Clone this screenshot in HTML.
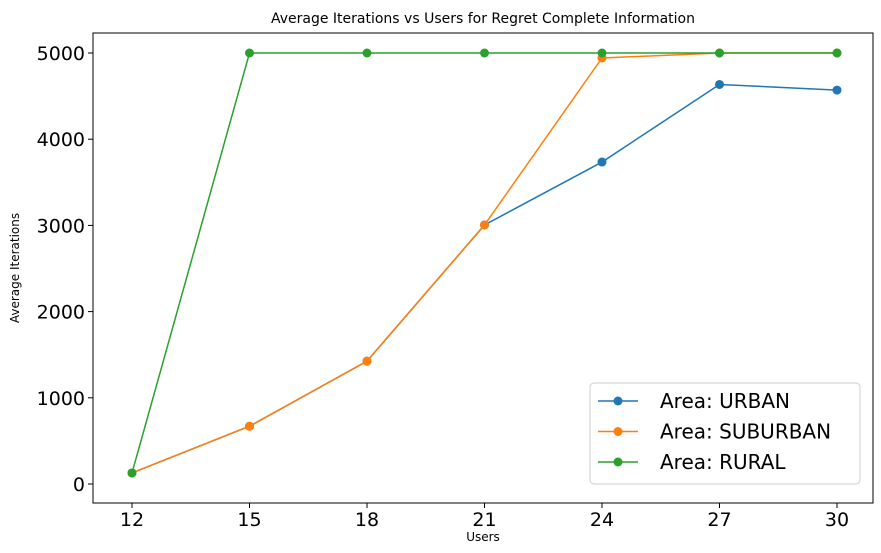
<!DOCTYPE html>
<html><head><meta charset="utf-8"><style>
body{margin:0;background:#fff;}
svg{display:block;font-family:"DejaVu Sans","Liberation Sans",sans-serif;}
</style></head><body>
<svg id="chart" width="881" height="553"></svg>
<script>
const categories=[12,15,18,21,24,27,30];
const urban=[128,670,1425,3005,3735,4635,4570];
const suburban=[128,670,1425,3005,4942,5000,5000];
const rural=[128,5000,5000,5000,5000,5000,5000];
const yTicks=[0,1000,2000,3000,4000,5000];
const seriesNames=["Area: URBAN","Area: SUBURBAN","Area: RURAL"];
const seriesColors=["#1f77b4","#ff7f0e","#2ca02c"];
const NS="http://www.w3.org/2000/svg";
const svg=document.getElementById('chart');
const L=93,R=873,T=33,B=503;
function xs(v){return 132+(v-12)*(837-132)/18;}
function ys(v){return 484-v*(484-53)/5000;}
function mk(tag,attrs,parent){const e=document.createElementNS(NS,tag);for(const k in attrs)e.setAttribute(k,attrs[k]);(parent||svg).appendChild(e);return e;}
const title=mk('text',{x:483,y:23,'text-anchor':'middle','font-size':14,fill:'#000'});title.textContent='Average Iterations vs Users for Regret Complete Information';


const frame=mk('rect',{x:L,y:T,width:R-L,height:B-T,fill:'none',stroke:'#000','stroke-width':1});


categories.forEach(c=>{
  const x=xs(c);
  mk('line',{x1:x,x2:x,y1:B,y2:B+5,stroke:'#000'});
  const t=mk('text',{x:x,y:B+23,'text-anchor':'middle','font-size':19});t.textContent=c;
  
  
});
yTicks.forEach(v=>{
  const y=ys(v);
  mk('line',{x1:L-5,x2:L,y1:y,y2:y,stroke:'#000'});
  const t=mk('text',{x:L-8,y:y+7,'text-anchor':'end','font-size':19});t.textContent=v;
  
  
});
const xl=mk('text',{x:483,y:541,'text-anchor':'middle','font-size':12});xl.textContent='Users';


const yl=mk('text',{x:0,y:0,'text-anchor':'middle','font-size':12,transform:'translate(19,268) rotate(-90)'});yl.textContent='Average Iterations';


[urban,suburban,rural].forEach((s,i)=>{
  const g=mk('g',{});
  
  
  mk('polyline',{points:s.map((v,j)=>xs(categories[j])+','+ys(v)).join(' '),fill:'none',stroke:seriesColors[i],'stroke-width':1.5},g);
  s.forEach((v,j)=>{
    const c=mk('circle',{cx:xs(categories[j]),cy:ys(v),r:4.5,fill:seriesColors[i]},g);
    
    
  });
});
const lg=mk('g',{});


mk('rect',{x:590,y:383,width:270,height:101,rx:4,fill:'#fff',stroke:'#ccc'},lg);
seriesNames.forEach((n,i)=>{
  const y=401+i*30.5;
  const e=mk('g',{},lg);
  
  
  mk('line',{x1:598,x2:638,y1:y,y2:y,stroke:seriesColors[i],'stroke-width':1.5},e);
  mk('circle',{cx:618,cy:y,r:4.5,fill:seriesColors[i]},e);
  const t=mk('text',{x:660,y:y+7,'font-size':20},e);t.textContent=n;
});
</script>
</body></html>
